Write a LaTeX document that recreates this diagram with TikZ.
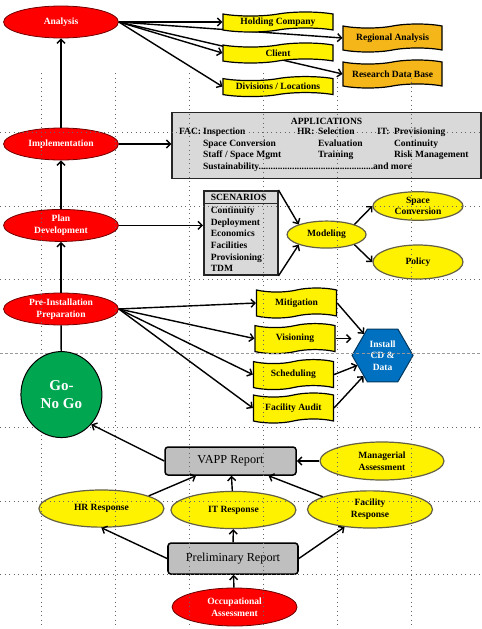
\documentclass[tikz,border=0pt]{standalone}
\usepackage{fontspec}
\setmainfont{Liberation Serif}
\usetikzlibrary{shapes.geometric,shapes.symbols,shapes.multipart,arrows.meta,backgrounds}

\definecolor{deskorange}{RGB}{245,182,25}
\definecolor{gogreen}{RGB}{0,166,80}
\definecolor{hexblue}{RGB}{0,112,192}

\begin{document}
\begin{tikzpicture}[
        >={Straight Barb[length=4pt,width=8pt]},
        stage/.style={ellipse, draw=red!45!black, line width=0.8pt, fill=red, text=white, font=\fontsize{9.5}{11.6}\selectfont\bfseries, align=center, inner sep=0pt, minimum width=4.02cm, minimum height=1.12cm},
        answer/.style={ellipse, draw=black!70!yellow, line width=1.2pt, fill=yellow, font=\fontsize{9.5}{11.6}\selectfont\bfseries, align=center, inner sep=0pt, minimum width=4.375cm, minimum height=1.3cm},
        banner/.style={tape, draw=black, line width=1.2pt, fill=yellow, font=\fontsize{9.5}{11.6}\selectfont\bfseries, inner sep=0pt, tape bend height=4pt, minimum width=2.8cm, minimum height=1.05cm},
        report/.style={rectangle, rounded corners=3pt, draw=black, line width=1.5pt, fill=black!25, font=\fontsize{12.2}{14}\selectfont, minimum width=4.585cm, minimum height=0.98cm},
        listbox/.style={rectangle, draw=black!85, line width=1.5pt, fill=black!15, font=\fontsize{9.5}{11.6}\selectfont\bfseries},
        flow/.style={->, line width=1.4pt},
        gridline/.style={black!60, line width=0.7pt, dash pattern=on 0.7pt off 3.8pt},
        pagebreak/.style={black!40, line width=0.6pt, dash pattern=on 3pt off 2pt}
    ]
        \useasboundingbox (0,0) rectangle (16.87,-22.015);

        % Stages
        \node[stage] (ana) at (2.135,-0.77) {Analysis};
        \node[stage] (impl) at (2.135,-5.04) {Implementation};
        \node[stage] (plan) at (2.135,-7.89) {Plan\\Development};
        \node[stage] (pre) at (2.135,-10.815) {Pre-Installation\\Preparation};

        % Analysis outputs
        \node[banner, minimum width=3.85cm, minimum height=0.7cm] (hold) at (9.73,-0.77) {Holding Company};
        \node[banner, minimum width=3.85cm, minimum height=0.7cm] (cli) at (9.73,-1.855) {Client};
        \node[banner, minimum width=3.85cm, minimum height=0.7cm] (div) at (9.73,-3.03) {Divisions / Locations};
        \node[banner, fill=deskorange, minimum width=3.465cm, minimum height=0.98cm] (reg) at (13.74,-1.33) {Regional Analysis};
        \node[banner, fill=deskorange, minimum width=3.465cm, minimum height=0.98cm] (res) at (13.74,-2.59) {Research Data Base};

        % Applications
        \node[listbox, minimum width=10.815cm, minimum height=2.31cm, align=center] (apps) at (11.43,-5.09) {APPLICATIONS\\[1pt]
            \begin{tabular}{@{}p{0.84cm}@{}p{3.29cm}@{}p{0.735cm}@{}p{2.065cm}@{}p{0.595cm}@{}p{2.8cm}@{}}
                FAC: & Inspection & HR: & Selection & IT: & Provisioning\\
                & Space Conversion & & Evaluation & & Continuity\\
                & Staff / Space Mgmt & & Training & & Risk Management\\
                & \multicolumn{5}{@{}l@{}}{Sustainability................................................and more}
            \end{tabular}};

        % Scenarios and modeling
        \node[listbox, rectangle split, rectangle split parts=2, anchor=north west, text width=2.1cm, inner xsep=0.245cm, inner ysep=2.5pt, align=left] (scen) at (7.105,-6.65) {SCENARIOS
            \nodepart{two}Continuity\\Deployment\\Economics\\Facilities\\Provisioning\\TDM};
        \node[answer, minimum width=2.765cm, minimum height=0.945cm] (mod) at (11.43,-8.21) {Modeling};
        \node[answer, minimum width=3.15cm, minimum height=1.0cm] (space) at (14.63,-7.21) {Space\\Conversion};
        \node[answer, minimum width=3.15cm, minimum height=1.19cm] (pol) at (14.63,-9.17) {Policy};

        % Pre-installation steps
        \node[banner] (mit) at (10.38,-10.605) {Mitigation};
        \node[banner] (vis) at (10.325,-11.85) {Visioning};
        \node[banner] (sch) at (10.27,-13.11) {Scheduling};
        \node[banner] (fau) at (10.27,-14.28) {Facility Audit};
        \node[regular polygon, regular polygon sides=6, minimum size=2.135cm, inner sep=0pt, draw=hexblue!50!black, line width=1pt, fill=hexblue, text=white, font=\fontsize{9.5}{11.6}\selectfont\bfseries, align=center] (inst) at (13.39,-12.44) {Install\\CD \&\\Data};

        % Reports and responses
        \node[report] (vapp) at (8.07,-16.135) {VAPP Report};
        \node[answer, minimum width=4.34cm, minimum height=1.33cm] (man) at (13.37,-16.135) {Managerial\\Assessment};
        \node[answer] (hr) at (3.55,-17.8) {HR Response};
        \node[answer] (it) at (8.17,-17.85) {IT Response};
        \node[answer] (fac) at (12.95,-17.83) {Facility\\Response};
        \node[report, minimum width=4.55cm, minimum height=1.085cm] (prel) at (8.155,-19.55) {Preliminary Report};
        \node[stage, draw=black!60!red, minimum width=4.375cm, minimum height=1.33cm] (occ) at (8.21,-21.245) {Occupational\\Assessment};

        % Page grid
        \foreach \gx in {1.435,4.025,6.615,9.205,11.795,14.385}
            \draw[gridline] (\gx,-2.555) -- (\gx,-22.015);
        \foreach \gy in {-4.62,-7.21,-9.765,-14.945,-17.535,-20.09}
            \draw[gridline] (0,\gy) -- (16.87,\gy);
        \draw[pagebreak] (0,-12.355) -- (16.87,-12.355);

        % Decision
        \node[ellipse, draw=black, line width=1pt, fill=gogreen, text=white, font=\fontsize{15}{18}\selectfont\bfseries, align=center, inner sep=0pt, minimum width=2.835cm, minimum height=3.01cm] (go) at (2.15,-13.81) {Go-\\No Go};

        % Main chain
        \draw[line width=1.4pt] (go) -- (pre);
        \draw[flow] (pre) -- (plan);
        \draw[flow] (plan) -- (impl);
        \draw[flow] (impl) -- (ana);

        \draw[flow] (ana.east) -- (hold.west);
        \draw[flow] (ana.east) -- (cli.west);
        \draw[flow] (ana.east) -- (div.west);
        \begin{scope}[on background layer]
            \draw[flow] (ana.east) -- (reg.west);
            \draw[flow] (ana.east) -- (res.west);
        \end{scope}

        \draw[flow] (impl.east) -- (impl.east -| apps.west);
        \draw[flow] (plan.east) -- (plan.east -| scen.west);
        \draw[flow] (scen.north east) -- (mod.160);
        \draw[flow] (scen.south east) -- (mod.200);
        \draw[flow] (mod.20) -- (space.west);
        \draw[flow] (mod.-20) -- (pol.west);

        \draw[flow] (pre.east) -- (mit.west);
        \draw[flow] (pre.east) -- (vis.west);
        \draw[flow] (pre.east) -- (sch.west);
        \draw[flow] (pre.east) -- (fau.west);
        \draw[flow] (mit.east) -- (inst);
        \draw[flow] (vis.east) -- (vis.east -| inst.west);
        \draw[flow] (sch.east) -- (inst);
        \draw[flow] (fau.east) -- (inst);

        % Reports
        \draw[flow] (occ) -- (prel);
        \draw[flow] (prel.west) -- (hr.south);
        \draw[flow] (prel) -- (it);
        \draw[flow] (prel.east) -- (fac);
        \draw[flow] (hr.15) -- (vapp);
        \draw[flow] (it) -- (vapp);
        \draw[flow] (fac.165) -- (vapp);
        \draw[flow] (man) -- (vapp);
        \draw[flow] (vapp.west) -- (go.-45);
    \end{tikzpicture}
\end{document}
